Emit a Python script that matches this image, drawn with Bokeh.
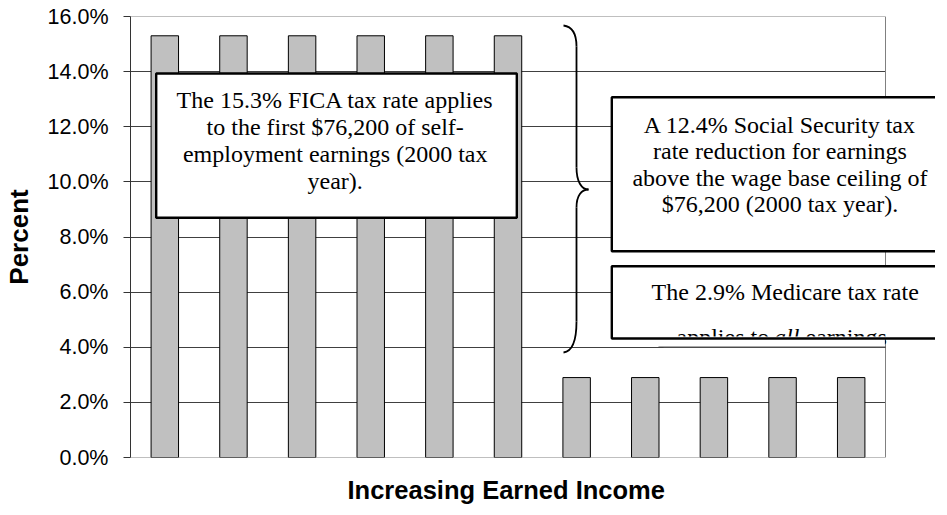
from bokeh.plotting import figure
from bokeh.models import Range1d, FixedTicker, NumeralTickFormatter, BoxAnnotation, Label, Title
from bokeh.embed import file_html
from bokeh.resources import INLINE

# ---- data ----
income_levels = [1, 2, 3, 4, 5, 6, 7, 8, 9, 10, 11]          # increasing earned income (unlabelled)
tax_rates = [0.153, 0.153, 0.153, 0.153, 0.153, 0.153, 0.029, 0.029, 0.029, 0.029, 0.029]
y_ticks = [0.0, 0.02, 0.04, 0.06, 0.08, 0.10, 0.12, 0.14, 0.16]

fica_text = ["The 15.3% FICA tax rate applies",
             "to the first $76,200 of self-",
             "employment earnings (2000 tax",
             "year)."]
ss_text = ["A 12.4% Social Security tax",
           "rate reduction for earnings",
           "above the wage base ceiling of",
           "$76,200 (2000 tax year)."]
medicare_line1 = "The 2.9% Medicare tax rate"
medicare_line2 = ["applies to", "all", "earnings"]

# ---- layout (page pixels) ----
PAGE_OFF = 1
FRAME_L, FRAME_T, PLOT_W, FRAME_H = 127, 17, 755, 441
TOTAL_W = 931
FRAME_W = TOTAL_W - (FRAME_L - PAGE_OFF)
Y_MAX = 0.16
N = len(income_levels)
X0 = income_levels[0] - 0.5
X_PLOT_END = income_levels[-1] + 0.5
LABEL_DY = -6.5


def dx(px):
    return X0 + (px - FRAME_L) / PLOT_W * N


def dy(py):
    return (FRAME_T + FRAME_H - py) / FRAME_H * Y_MAX


p = figure(x_range=Range1d(X0, dx(FRAME_L + FRAME_W)), y_range=Range1d(0, Y_MAX),
           frame_width=FRAME_W, frame_height=FRAME_H,
           min_border_left=FRAME_L - PAGE_OFF, min_border_top=FRAME_T - PAGE_OFF,
           min_border_right=0, min_border_bottom=50,
           output_backend="svg", toolbar_location=None)
p.background_fill_color = "white"
p.border_fill_color = "white"
p.outline_line_color = None

# grid
GRID_COLOR = "#404040"
p.xgrid.grid_line_color = None
p.ygrid.ticker = FixedTicker(ticks=y_ticks)
p.ygrid.grid_line_color = GRID_COLOR
p.ygrid.grid_line_width = 1

# white out the area right of the plot area, then draw the plot-area border
p.add_layout(BoxAnnotation(left=X_PLOT_END, fill_color="white", fill_alpha=1,
                           line_alpha=0, level="underlay"))
p.add_layout(BoxAnnotation(left=X0, right=X_PLOT_END, bottom=0, top=Y_MAX,
                           fill_alpha=0, line_color="#808080", line_alpha=1,
                           line_width=1, level="underlay"))

p.vbar(x=income_levels, top=tax_rates, width=0.4, fill_color="#c0c0c0",
       line_color="black", line_width=1)

# axes
p.yaxis.ticker = FixedTicker(ticks=y_ticks)
p.yaxis.formatter = NumeralTickFormatter(format="0.0%")
p.yaxis.major_label_text_font = "Liberation Sans"
p.yaxis.major_label_text_font_size = "21.5px"
p.yaxis.major_label_text_color = "black"
p.yaxis.major_label_standoff = 15
p.yaxis.major_tick_out = 7
p.yaxis.major_tick_in = 0
p.yaxis.minor_tick_line_color = None
p.yaxis.major_tick_line_color = "#333333"
p.yaxis.axis_line_color = "#333333"
p.yaxis.axis_label = "Percent"
p.yaxis.axis_label_text_font = "Liberation Sans"
p.yaxis.axis_label_text_font_style = "bold"
p.yaxis.axis_label_text_font_size = "26px"
p.yaxis.axis_label_text_color = "black"
p.yaxis.axis_label_standoff = 11

p.xaxis.visible = False
p.add_layout(Title(text="Increasing Earned Income", align="left", offset=217,
                   text_font="Liberation Sans", text_font_style="bold",
                   text_font_size="25.5px", text_color="black", standoff=32), "below")

# curly brace
bx = 573
br = [((560, 26), (568, 27), (573, 33), (bx, 47)),
      ((bx, 47), (bx, 90), (bx, 130), (bx, 168)),
      ((bx, 168), (bx, 182), (578, 190), (585, 190)),
      ((585, 190), (578, 190), (bx, 196), (bx, 208)),
      ((bx, 208), (bx, 250), (bx, 290), (bx, 322)),
      ((bx, 322), (bx, 343), (568, 352), (560, 353))]
p.bezier(x0=[dx(s[0][0]) for s in br], y0=[dy(s[0][1]) for s in br],
         cx0=[dx(s[1][0]) for s in br], cy0=[dy(s[1][1]) for s in br],
         cx1=[dx(s[2][0]) for s in br], cy1=[dy(s[2][1]) for s in br],
         x1=[dx(s[3][0]) for s in br], y1=[dy(s[3][1]) for s in br],
         line_color="black", line_width=1.8)


def box(l, r, t, b, fill=True, line=True):
    p.add_layout(BoxAnnotation(left=dx(l), right=dx(r), top=dy(t), bottom=dy(b),
                               fill_color="white", fill_alpha=1 if fill else 0,
                               line_color="black", line_alpha=1 if line else 0,
                               line_width=2.4))


def label(px, py, text, align="center", style="normal"):
    p.add_layout(Label(x=dx(px), y=dy(py + LABEL_DY), text=text, text_align=align,
                       text_baseline="alphabetic", text_font="Liberation Serif",
                       text_font_size="24px", text_font_style=style,
                       text_color="black"))


# FICA box
box(152.7, 513.3, 74, 218.3)
for i, t in enumerate(fica_text):
    label(331.7, 106.7 + i * 27.2, t)

# Social Security box
box(608.3, 960, 97.7, 251.7)
for i, t in enumerate(ss_text):
    label(776.5, 131.7 + i * 26.5, t)

# Medicare box (its second line is cut off by the box edge)
box(608.3, 960, 266.7, 339, line=False)
label(781.7, 299.3, medicare_line1)
label(673, 343.5, medicare_line2[0], align="left")
label(770.5, 343.5, medicare_line2[1], align="left", style="italic")
label(802, 343.5, medicare_line2[2], align="left")
p.add_layout(BoxAnnotation(left=dx(660), right=dx(881.4), top=dy(337), bottom=dy(356),
                           fill_color="white", fill_alpha=1, line_alpha=0))
p.add_layout(BoxAnnotation(left=dx(655), right=X_PLOT_END, top=0.04 + 1e-6, bottom=0.04 - 1e-6,
                           fill_alpha=0, line_color=GRID_COLOR, line_alpha=1, line_width=1))
box(608.3, 960, 266.7, 339, fill=False)

open("out.html", "w").write(file_html(p, INLINE))
